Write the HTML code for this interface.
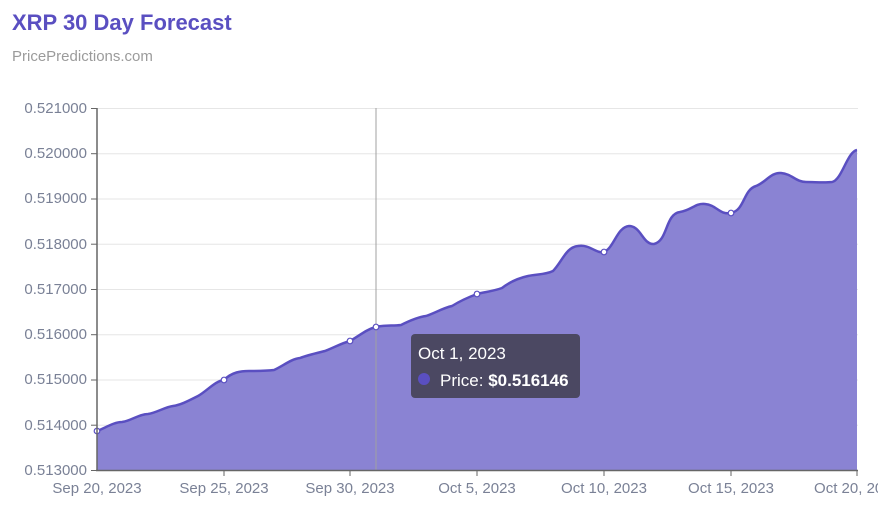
<!DOCTYPE html>
<html><head><meta charset="utf-8"><style>
body{margin:0;background:#fff;width:878px;height:500px;overflow:hidden;font-family:"Liberation Sans",sans-serif}
</style></head><body>
<svg width="878" height="500" xmlns="http://www.w3.org/2000/svg" font-family="Liberation Sans, sans-serif">
<text x="12" y="30" font-size="22" font-weight="bold" fill="#5a4fc1">XRP 30 Day Forecast</text>
<text x="12" y="61" font-size="15" fill="#9b9b9b">PricePredictions.com</text>
<g stroke="#e6e6e6" stroke-width="1">
<line x1="97" x2="858" y1="108.5" y2="108.5"/><line x1="97" x2="858" y1="153.7" y2="153.7"/>
<line x1="97" x2="858" y1="199" y2="199"/><line x1="97" x2="858" y1="244.2" y2="244.2"/>
<line x1="97" x2="858" y1="289.5" y2="289.5"/><line x1="97" x2="858" y1="334.7" y2="334.7"/>
<line x1="97" x2="858" y1="380" y2="380"/><line x1="97" x2="858" y1="425.2" y2="425.2"/>
</g>
<g font-size="15" fill="#7a8196" text-anchor="end">
<text x="87" y="113">0.521000</text><text x="87" y="158">0.520000</text><text x="87" y="203">0.519000</text>
<text x="87" y="249">0.518000</text><text x="87" y="294">0.517000</text><text x="87" y="339">0.516000</text>
<text x="87" y="384">0.515000</text><text x="87" y="430">0.514000</text><text x="87" y="475">0.513000</text>
</g>
<path fill="#8a83d3" stroke="none" d="M97,431 C105,428 114,422 122,422 C131,421 139,414 148,414 C156,413 165,407 173,406 C181,405 190,400 198,396 C207,391 215,381 224,380 C232,372 241,371 249,371 C258,371 266,371 274,370 C283,366 291,359 300,358 C308,355 317,353 325,351 C333,348 342,343 350,341 C359,336 367,329 376,327 C384,325 393,326 401,325 C409,321 418,317 426,316 C435,313 443,308 452,306 C460,301 469,297 477,294 C485,292 494,291 502,288 C511,281 519,278 528,276 C536,274 545,275 553,271 C562,262 566,247 578,246 C590,244 596,254 604,252 C614,248 617,227 629,226 C641,226 643,245 654,244 C668,241 665,214 680,212 C692,210 695,203 705,204 C717,205 719,215 731,213 C745,210 743,190 756,186 C765,183 771,172 781,173 C792,174 796,182 806,182 C815,182 824,183 832,182 C842,180 847,152 857,150 L857,470 L97,470 Z"/>
<path fill="none" stroke="#5a4fc1" stroke-width="2.5" d="M97,431 C105,428 114,422 122,422 C131,421 139,414 148,414 C156,413 165,407 173,406 C181,405 190,400 198,396 C207,391 215,381 224,380 C232,372 241,371 249,371 C258,371 266,371 274,370 C283,366 291,359 300,358 C308,355 317,353 325,351 C333,348 342,343 350,341 C359,336 367,329 376,327 C384,325 393,326 401,325 C409,321 418,317 426,316 C435,313 443,308 452,306 C460,301 469,297 477,294 C485,292 494,291 502,288 C511,281 519,278 528,276 C536,274 545,275 553,271 C562,262 566,247 578,246 C590,244 596,254 604,252 C614,248 617,227 629,226 C641,226 643,245 654,244 C668,241 665,214 680,212 C692,210 695,203 705,204 C717,205 719,215 731,213 C745,210 743,190 756,186 C765,183 771,172 781,173 C792,174 796,182 806,182 C815,182 824,183 832,182 C842,180 847,152 857,150"/>
<line x1="376" y1="108" x2="376" y2="470" stroke="#a0a0a0" stroke-width="1"/>
<g fill="#fff" stroke="#5a4fc1" stroke-width="1.2">
<circle cx="97" cy="431" r="2.8"/><circle cx="224" cy="380" r="2.8"/><circle cx="350" cy="341" r="2.8"/>
<circle cx="376" cy="327" r="2.8"/><circle cx="477" cy="294" r="2.8"/><circle cx="604" cy="252" r="2.8"/><circle cx="731" cy="213" r="2.8"/>
</g>
<g stroke="#666" stroke-width="1.5">
<line x1="97" y1="108" x2="97" y2="471"/><line x1="96" y1="470.5" x2="858" y2="470.5"/>
</g>
<g stroke="#666" stroke-width="1">
<line x1="91" x2="97" y1="108.5" y2="108.5"/><line x1="91" x2="97" y1="153.7" y2="153.7"/><line x1="91" x2="97" y1="199" y2="199"/>
<line x1="91" x2="97" y1="244.2" y2="244.2"/><line x1="91" x2="97" y1="289.5" y2="289.5"/><line x1="91" x2="97" y1="334.7" y2="334.7"/>
<line x1="91" x2="97" y1="380" y2="380"/><line x1="91" x2="97" y1="425.2" y2="425.2"/><line x1="91" x2="97" y1="470.5" y2="470.5"/>
<line x1="224" x2="224" y1="470" y2="476"/><line x1="350" x2="350" y1="470" y2="476"/><line x1="477" x2="477" y1="470" y2="476"/>
<line x1="604" x2="604" y1="470" y2="476"/><line x1="731" x2="731" y1="470" y2="476"/><line x1="857" x2="857" y1="470" y2="476"/>
</g>
<g font-size="15" fill="#7a8196" text-anchor="middle">
<text x="97" y="493">Sep 20, 2023</text><text x="224" y="493">Sep 25, 2023</text><text x="350" y="493">Sep 30, 2023</text>
<text x="477" y="493">Oct 5, 2023</text><text x="604" y="493">Oct 10, 2023</text><text x="731" y="493">Oct 15, 2023</text>
<text x="857" y="493">Oct 20, 2023</text>
</g>
<rect x="411" y="334" width="169" height="64" rx="4" fill="#4b4862"/>
<text x="418" y="359" font-size="17" fill="#fff">Oct 1, 2023</text>
<circle cx="424" cy="379" r="6" fill="#5a4fc1"/>
<text x="440" y="386" font-size="17" fill="#fff">Price: <tspan font-weight="bold">$0.516146</tspan></text>
</svg>
</body></html>
